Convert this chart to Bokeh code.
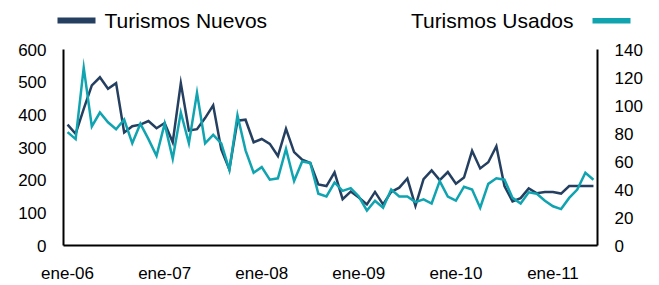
from bokeh.plotting import figure
from bokeh.layouts import column
from bokeh.models import Range1d, LinearAxis, FixedTicker, ColumnDataSource
from bokeh.core.properties import value
from bokeh.embed import file_html
from bokeh.resources import INLINE

# ---- data (monthly, ene-06 .. jun-11) ----
meses = ["ene", "feb", "mar", "abr", "may", "jun", "jul", "ago", "sep", "oct", "nov", "dic"]
anios = ["06", "07", "08", "09", "10", "11"]
periodos = [f"{m}-{a}" for a in anios for m in meses][:66]

nuevos = [370, 342, 418, 490, 515, 480, 497, 346, 365, 370, 381, 359,
          375, 316, 497, 352, 356, 390, 429, 294, 233, 382, 385, 316,
          326, 311, 274, 357, 286, 263, 253, 187, 182, 224, 142, 165,
          147, 126, 164, 126, 164, 177, 205, 121, 203, 230, 200, 225,
          189, 208, 290, 236, 255, 304, 182, 135, 145, 175, 160, 164,
          164, 159, 182, 182, 182, 182]

usados = [81, 76, 127, 85, 95, 88, 83, 90, 73, 87, 76, 64,
          87, 62, 95, 73, 109, 73, 79, 73, 54, 93, 68, 52,
          56, 47, 48, 69, 46, 60, 59, 37, 35, 45, 39, 41,
          35, 25, 32, 27, 40, 35, 35, 31, 33, 30, 46, 35,
          32, 42, 40, 27, 44, 48, 47, 34, 30, 38, 37, 32,
          28, 26, 34, 40, 52, 47]

tick_labels = ["ene-06", "ene-07", "ene-08", "ene-09", "ene-10", "ene-11"]
left_ticks = [0, 100, 200, 300, 400, 500, 600]
right_ticks = [0, 20, 40, 60, 80, 100, 120, 140]

serie_nuevos = "Turismos Nuevos"
serie_usados = "Turismos Usados"

C_NUEVOS = "#243F60"
C_USADOS = "#10A3B0"
FONT = "Liberation Sans"
W = 659

# ---------------- legend strip ----------------
LH = 40
leg = figure(width=W, height=LH, output_backend="svg", toolbar_location=None,
             x_range=Range1d(0, W), y_range=Range1d(LH, 0),
             min_border=0, x_axis_type=None, y_axis_type=None)
leg.frame_align = False
leg.title.visible = False
leg.outline_line_color = None
leg.xgrid.visible = False
leg.ygrid.visible = False
leg.quad(left=[57], right=[95], top=[17], bottom=[23], fill_color=C_NUEVOS, line_color=None)
leg.quad(left=[592], right=[630], top=[17.5], bottom=[23], fill_color=C_USADOS, line_color=None)
leg.text(x=[104], y=[19.5], text=[serie_nuevos], text_font=value(FONT), text_font_size="21px",
         text_color="black", text_baseline="middle", text_align="left")
leg.text(x=[573], y=[19.5], text=[serie_usados], text_font=value(FONT), text_font_size="21px",
         text_color="black", text_baseline="middle", text_align="right")

# ---------------- main chart ----------------
idx = list(range(len(periodos)))
src = ColumnDataSource(dict(x=idx, periodo=periodos, nuevos=nuevos, usados=usados))

p = figure(width=W, height=285 - LH, output_backend="svg", toolbar_location=None,
           x_range=Range1d(-0.5, len(periodos) - 0.5), y_range=Range1d(0, 600),
           min_border_left=63, min_border_right=62, min_border_top=9, min_border_bottom=38,
           x_axis_type=None, y_axis_type=None)
p.frame_align = False
p.title.visible = False
p.outline_line_color = None
p.xgrid.visible = False
p.ygrid.visible = False
p.extra_y_ranges = {"right": Range1d(0, 140)}

tick_pos = [periodos.index(t) for t in tick_labels]

def style(ax, standoff):
    ax.axis_line_color = "black"
    ax.axis_line_width = 2
    ax.major_tick_line_color = None
    ax.minor_tick_line_color = None
    ax.major_tick_in = 0
    ax.major_tick_out = 0
    ax.minor_tick_in = 0
    ax.minor_tick_out = 0
    ax.major_label_standoff = standoff
    ax.major_label_text_font = FONT
    ax.major_label_text_font_size = "17px"
    ax.major_label_text_color = "black"

xa = LinearAxis(ticker=FixedTicker(ticks=tick_pos),
                major_label_overrides={pos: lab for pos, lab in zip(tick_pos, tick_labels)})
style(xa, 18)
p.add_layout(xa, "below")

ya = LinearAxis(ticker=FixedTicker(ticks=left_ticks))
style(ya, 17)
p.add_layout(ya, "left")

yr = LinearAxis(y_range_name="right", ticker=FixedTicker(ticks=right_ticks))
style(yr, 17)
p.add_layout(yr, "right")

p.line("x", "nuevos", source=src, line_color=C_NUEVOS, line_width=2.5, line_join="miter")
p.line("x", "usados", source=src, y_range_name="right", line_color=C_USADOS, line_width=2.5,
       line_join="miter")

layout = column(leg, p, spacing=0)
open("out.html", "w").write(file_html(layout, INLINE))
